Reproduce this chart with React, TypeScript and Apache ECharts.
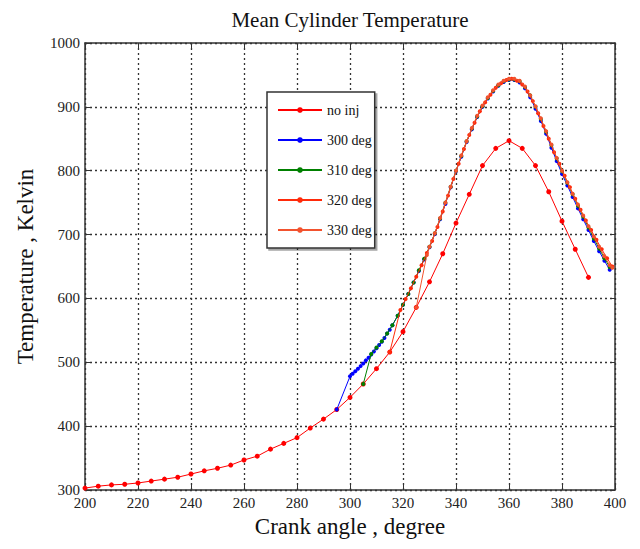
import React, { useEffect, useRef } from "react";
import * as echarts from "echarts";

const chartTitle = "Mean Cylinder Temperature";
const xName = "Crank angle , degree";
const yName = "Temperature , Kelvin";

const seriesNames = ["no inj", "300 deg", "310 deg", "320 deg", "330 deg"];
const seriesColors = ["#ff0000", "#0000ff", "#008000", "#ff2a0a", "#f2522e"];

const noInjAngle = [200, 205, 210, 215, 220, 225, 230, 235, 240, 245, 250, 255, 260, 265, 270, 275, 280, 285, 290, 295, 300, 305, 310, 315, 320, 325, 330, 335, 340, 345, 350, 355, 360, 365, 370, 375, 380, 385, 390];
const noInjTemp = [303, 306, 308, 309, 311, 314, 317, 320, 325, 330, 334, 339, 347, 353, 364, 373, 382, 397, 411, 426, 445, 466, 490, 516, 548, 586, 626, 670, 718, 763, 808, 835, 847, 835, 808, 767, 721, 677, 633];

const deg300Angle = [295, 300, 301, 302, 303, 304, 305, 306, 307, 308, 309, 310, 311, 312, 313, 314, 315, 316, 318, 320, 322, 324, 326, 328, 330, 332, 334, 336, 338, 340, 342, 344, 346, 348, 350, 352, 354, 356, 358, 360, 362, 364, 366, 368, 370, 372, 374, 376, 378, 380, 382, 384, 386, 388, 390, 392, 394, 396, 398];
const deg300Temp = [426, 478, 482, 486, 490, 494, 498, 503, 507, 512, 517, 522, 527, 532, 538, 545, 551, 558, 573, 590, 607, 625, 643, 661, 680, 701, 724, 748, 774, 799, 822, 845, 865, 884, 900, 913, 924, 933, 939, 942, 942, 938, 929, 915, 897, 878, 858, 836, 815, 795, 777, 759, 741, 724, 707, 690, 674, 659, 645];

const deg310Angle = [305, 308, 310, 312, 314, 316, 318, 320, 322, 324, 326, 328, 330, 332, 334, 336, 338, 340, 342, 344, 346, 348, 350, 352, 354, 356, 358, 360, 362, 364, 366, 368, 370, 372, 374, 376, 378, 380, 382, 384, 386, 388, 390, 392, 394, 396, 398];
const deg310Temp = [466, 513, 523, 533, 545, 558, 573, 590, 607, 625, 644, 662, 681, 702, 725, 750, 775, 800, 823, 846, 866, 885, 901, 914, 925, 934, 940, 943, 943, 940, 931, 918, 900, 881, 861, 840, 819, 799, 781, 763, 745, 728, 711, 694, 678, 663, 649];

const deg320Angle = [315, 319, 321, 323, 325, 327, 329, 331, 333, 335, 337, 339, 341, 343, 345, 347, 349, 351, 353, 355, 357, 359, 361, 363, 365, 367, 369, 371, 373, 375, 377, 379, 381, 383, 385, 387, 389, 391, 393, 395, 397, 399];
const deg320Temp = [516, 582, 599, 616, 634, 652, 671, 690, 712, 736, 761, 787, 811, 834, 856, 875, 893, 907, 919, 930, 937, 942, 944, 941, 935, 924, 909, 890, 870, 850, 829, 811, 792, 774, 756, 739, 722, 707, 692, 677, 663, 650];

const deg330Angle = [325, 329, 330, 332, 334, 336, 338, 340, 342, 344, 346, 348, 350, 352, 354, 356, 358, 360, 362, 364, 366, 368, 370, 372, 374, 376, 378, 380, 382, 384, 386, 388, 390, 392, 394, 396, 398, 399];
const deg330Temp = [586, 668, 681, 702, 726, 750, 775, 800, 824, 846, 867, 886, 902, 915, 926, 935, 941, 944, 944, 941, 932, 918, 901, 882, 862, 841, 820, 800, 782, 764, 747, 730, 713, 697, 681, 666, 652, 648];

const seriesAngles = [noInjAngle, deg300Angle, deg310Angle, deg320Angle, deg330Angle];
const seriesTemps = [noInjTemp, deg300Temp, deg310Temp, deg320Temp, deg330Temp];

const FONT = "'Liberation Serif', 'Times New Roman', serif";

export default function App() {
  const ref = useRef<HTMLDivElement>(null);
  useEffect(() => {
    if (!ref.current) return;
    const chart = echarts.init(ref.current, null, { renderer: "svg" });
    const axisLine = { show: true, lineStyle: { color: "#333", width: 1.5 } };
    const tick = { show: true, inside: true, length: 5, lineStyle: { color: "#333", width: 1 } };
    const split = { show: true, lineStyle: { color: "#333", width: 1.3, type: [2, 3] as any } };
    const labelStyle = { fontFamily: FONT, fontSize: 15, color: "#222" };
    chart.setOption({
      animation: false,
      backgroundColor: "#ffffff",
      title: {
        text: chartTitle,
        left: 345,
        top: 4,
        textAlign: "center",
        textStyle: { fontFamily: FONT, fontSize: 21, fontWeight: "normal", color: "#111" },
      },
      grid: { left: 85, right: 25, top: 43, bottom: 59, containLabel: false },
      legend: {
        orient: "vertical",
        left: 267,
        top: 92,
        padding: [11, 3, 11, 10],
        itemGap: 16,
        itemWidth: 44,
        itemHeight: 7,
        backgroundColor: "#fff",
        borderColor: "#333",
        borderWidth: 1.5,
        borderRadius: 0,
        shadowColor: "rgba(0,0,0,0.35)",
        shadowOffsetX: 2,
        shadowOffsetY: 2,
        shadowBlur: 1,
        textStyle: { fontFamily: FONT, fontSize: 14, color: "#111" },
        data: seriesNames,
      },
      xAxis: [
        {
          type: "value",
          min: 200,
          max: 400,
          interval: 20,
          position: "bottom",
          axisLine,
          axisTick: tick,
          splitLine: split,
          axisLabel: { ...labelStyle, margin: 5, formatter: (v: number) => String(v) },
          name: xName,
          nameLocation: "middle",
          nameGap: 24,
          nameTextStyle: { fontFamily: FONT, fontSize: 23, color: "#111" },
        },
        {
          type: "value",
          min: 200,
          max: 400,
          interval: 20,
          position: "top",
          axisLine,
          axisTick: tick,
          splitLine: { show: false },
          axisLabel: { show: false },
        },
      ],
      yAxis: [
        {
          type: "value",
          min: 300,
          max: 1000,
          interval: 100,
          position: "left",
          axisLine,
          axisTick: tick,
          splitLine: split,
          axisLabel: { ...labelStyle, margin: 5, formatter: (v: number) => String(v) },
          name: yName,
          nameLocation: "middle",
          nameGap: 48,
          nameTextStyle: { fontFamily: FONT, fontSize: 23, color: "#111" },
        },
        {
          type: "value",
          min: 300,
          max: 1000,
          interval: 100,
          position: "right",
          axisLine,
          axisTick: tick,
          splitLine: { show: false },
          axisLabel: { show: false },
        },
      ],
      series: seriesNames.map((name, i) => ({
        name,
        type: "line",
        xAxisIndex: 0,
        yAxisIndex: 0,
        data: seriesAngles[i].map((a, j) => [a, seriesTemps[i][j]]),
        symbol: "circle",
        symbolSize: i === 0 ? 5 : 4,
        showSymbol: true,
        lineStyle: { color: seriesColors[i], width: 1 },
        itemStyle: { color: seriesColors[i] },
        emphasis: { disabled: true },
        z: 2 + i,
      })),
    });
    return () => chart.dispose();
  }, []);
  return (
    <div
      ref={ref}
      style={{ position: "fixed", left: 0, top: 0, width: 640, height: 549, background: "#fff" }}
    />
  );
}
